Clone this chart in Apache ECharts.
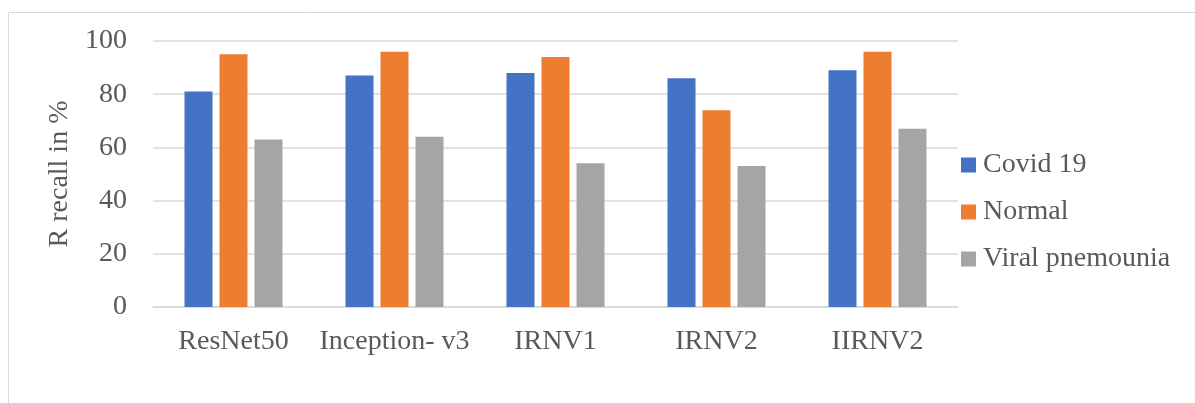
<!DOCTYPE html>
<html>
<head>
<meta charset="utf-8">
<script src="https://cdn.jsdelivr.net/npm/echarts@6/dist/echarts.min.js"></script>
<style>
  html, body { margin: 0; padding: 0; background: #fff; }
  #chart { width: 1195px; height: 403px; }
</style>
</head>
<body>
<div id="chart"></div>
<script>
// Recall per model and class
const categories = ['ResNet50', 'Inception- v3', 'IRNV1', 'IRNV2', 'IIRNV2'];
const covid19 = [81, 87, 88, 86, 89];
const normal = [95, 96, 94, 74, 96];
const viralPneumonia = [63, 64, 54, 53, 67];
const yTicks = { min: 0, max: 100, interval: 20 };

const FONT = '"Liberation Serif", "Times New Roman", serif';
const TEXT = '#595959';
const SIZE = 28;

const chart = echarts.init(document.getElementById('chart'));
chart.setOption({
  animation: false,
  backgroundColor: '#fff',
  textStyle: { fontFamily: FONT },
  graphic: [{
    type: 'rect',
    shape: { x: 8.5, y: 12.5, width: 1300, height: 500 },
    style: { fill: 'none', stroke: '#d9d9d9', lineWidth: 1 },
    silent: true
  }],
  grid: { left: 153, right: 237, top: 41, bottom: 96 },
  legend: {
    orient: 'vertical',
    left: 956,
    top: 146,
    itemWidth: 15,
    itemHeight: 15,
    itemGap: 19,
    icon: 'rect',
    textStyle: { fontFamily: FONT, fontSize: SIZE, color: TEXT, lineHeight: 28, padding: [0, 0, 0, 2] },
    data: ['Covid 19', 'Normal', 'Viral pnemounia']
  },
  xAxis: {
    type: 'category',
    data: categories,
    axisTick: { show: false },
    axisLine: { lineStyle: { color: '#d9d9d9', width: 1.5 } },
    axisLabel: { fontFamily: FONT, fontSize: SIZE, color: TEXT, margin: 21, interval: 0, hideOverlap: false }
  },
  yAxis: {
    type: 'value',
    min: yTicks.min,
    max: yTicks.max,
    interval: yTicks.interval,
    name: 'R recall in %',
    nameLocation: 'middle',
    nameGap: 79,
    nameRotate: 90,
    nameTextStyle: { fontFamily: FONT, fontSize: SIZE, color: TEXT },
    axisLine: { show: false },
    axisTick: { show: false },
    splitLine: { lineStyle: { color: '#d9d9d9', width: 1.5 } },
    axisLabel: { fontFamily: FONT, fontSize: SIZE, color: TEXT, margin: 26 }
  },
  series: [
    { name: 'Covid 19', type: 'bar', data: covid19, itemStyle: { color: '#4472C4' },
      barWidth: 28, barGap: '25%', barCategoryGap: '38%' },
    { name: 'Normal', type: 'bar', data: normal, itemStyle: { color: '#ED7D31' }, barWidth: 28 },
    { name: 'Viral pnemounia', type: 'bar', data: viralPneumonia, itemStyle: { color: '#A5A5A5' }, barWidth: 28 }
  ]
});
</script>
</body>
</html>
